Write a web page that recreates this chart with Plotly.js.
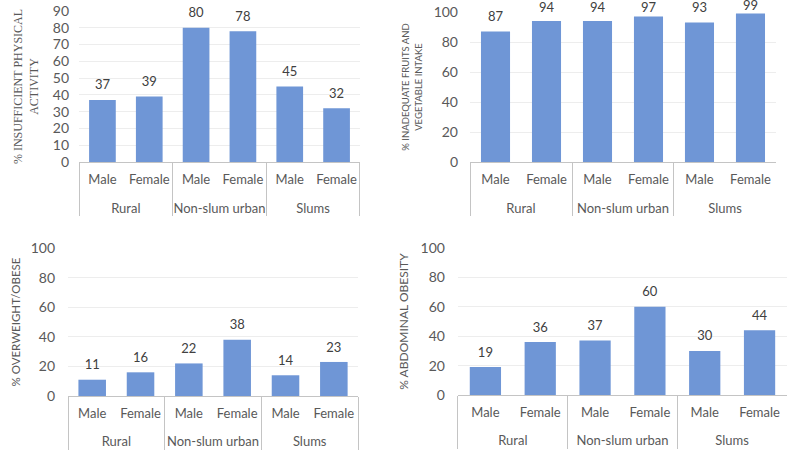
<!DOCTYPE html>
<html><head><meta charset="utf-8">
<script src="https://cdn.plot.ly/plotly-3.0.1.min.js"></script>
<style>html,body{margin:0;padding:0;background:#fff}</style>
</head><body><div id="chart" style="width:791px;height:457px"></div>
<script>
const regions = ['Rural', 'Non-slum urban', 'Slums'];
const sexes = ['Male', 'Female'];
const physicalInactivity = [37, 39, 80, 78, 45, 32];
const inadequateFruitVeg = [87, 94, 94, 97, 93, 99];
const overweightObese = [11, 16, 22, 38, 14, 23];
const abdominalObesity = [19, 36, 37, 60, 30, 44];

// an invisible second line under each inner label gives the outer row its spacing
const SPACER = '<br><span style="font-size:8px;color:rgba(0,0,0,0)">.</span>';
const groupLabels = [], subLabels = [];
regions.forEach(r => sexes.forEach(s => { groupLabels.push(r); subLabels.push(s + SPACER); }));
const xCats = [groupLabels, subLabels];

const BAR = '#6f96d6';
const FONT = 'Lato, "Open Sans", sans-serif';
const H = 457;
const panels = [
  {vals: physicalInactivity, sfx: '', dom: [0.6455, 0.9759], range: [0, 90]},
  {vals: inadequateFruitVeg, sfx: '2', dom: [0.6455, 0.9737], range: [0, 100]},
  {vals: overweightObese, sfx: '3', dom: [0.1335, 0.4573], range: [0, 100]},
  {vals: abdominalObesity, sfx: '4', dom: [0.1357, 0.4573], range: [0, 100]}
];
// label offset: ~15px above the bar, pulled down when it would leave the page
function labelMarkerSizes(p) {
  const plotH = (p.dom[1] - p.dom[0]) * H;
  const topRoom = (1 - p.dom[1]) * H;
  return p.vals.map(v => {
    const barTopFromPlotTop = (p.range[1] - v) / (p.range[1] - p.range[0]) * plotH;
    const D = Math.min(15, barTopFromPlotTop + topRoom - 7);
    const r = Math.max(0, D - 7.8);
    const mr = r > 1 ? (r - 1) * 0.8 : 0;
    return 2 * mr;
  });
}
const data = [];
panels.forEach(p => {
  data.push({type: 'bar', x: xCats, y: p.vals, xaxis: 'x' + p.sfx, yaxis: 'y' + p.sfx,
    marker: {color: BAR, line: {width: 0}}, hoverinfo: 'skip'});
  data.push({type: 'scatter', mode: 'markers+text', x: xCats, y: p.vals, xaxis: 'x' + p.sfx, yaxis: 'y' + p.sfx,
    text: p.vals.map(String), textposition: 'top center', cliponaxis: false,
    textfont: {family: FONT, size: 13, color: '#404040'},
    marker: {size: labelMarkerSizes(p), color: 'rgba(0,0,0,0)', line: {width: 0}}, hoverinfo: 'skip'});
});

function xax(domain, anchor) {
  return {domain: domain, anchor: anchor, type: 'multicategory', showline: true, linecolor: '#c4c4c4', linewidth: 1,
    showdividers: true, dividercolor: '#c4c4c4', dividerwidth: 1, ticks: '', showgrid: false, tickangle: 0,
    ticklabelstandoff: 5,
    tickfont: {family: FONT, size: 13, color: '#595959'}, fixedrange: true};
}
function yax(p, anchor, dtick, title, tfont, standoff, lsoff) {
  return {domain: p.dom, anchor: anchor, range: p.range, dtick: dtick, showline: false, zeroline: false,
    showgrid: true, gridcolor: '#ededed', gridwidth: 1, ticks: '', ticklabelstandoff: lsoff,
    tickfont: {family: FONT, size: 14, color: '#595959'},
    title: {text: title, font: tfont, standoff: standoff}, fixedrange: true};
}

const layout = {
  width: 791, height: 457, margin: {l: 0, r: 0, t: 0, b: 0},
  paper_bgcolor: '#fff', plot_bgcolor: '#fff', showlegend: false, bargap: 0.43,
  xaxis: xax([0.0999, 0.4551], 'y'),
  yaxis: yax(panels[0], 'x', 10, '% INSUFFICIENT PHYSICAL<br>ACTIVITY',
    {family: '"Liberation Serif", serif', size: 12, color: '#595959'}, 11, 9),
  xaxis2: xax([0.5942, 0.9810], 'y2'),
  yaxis2: yax(panels[1], 'x2', 20, '% INADEQUATE FRUITS AND<br>VEGETABLE INTAKE',
    {family: FONT, size: 9.5, color: '#595959'}, 9, 11),
  xaxis3: xax([0.0860, 0.4526], 'y3'),
  yaxis3: yax(panels[2], 'x3', 20, '% OVERWEIGHT/OBESE',
    {family: FONT, size: 11.5, color: '#595959'}, 7, 12),
  xaxis4: xax([0.5790, 0.9949], 'y4'),
  yaxis4: yax(panels[3], 'x4', 20, '% ABDOMINAL OBESITY',
    {family: FONT, size: 12, color: '#595959'}, 9, 12)
};

Plotly.newPlot('chart', data, layout, {displayModeBar: false, staticPlot: true});
</script></body></html>
